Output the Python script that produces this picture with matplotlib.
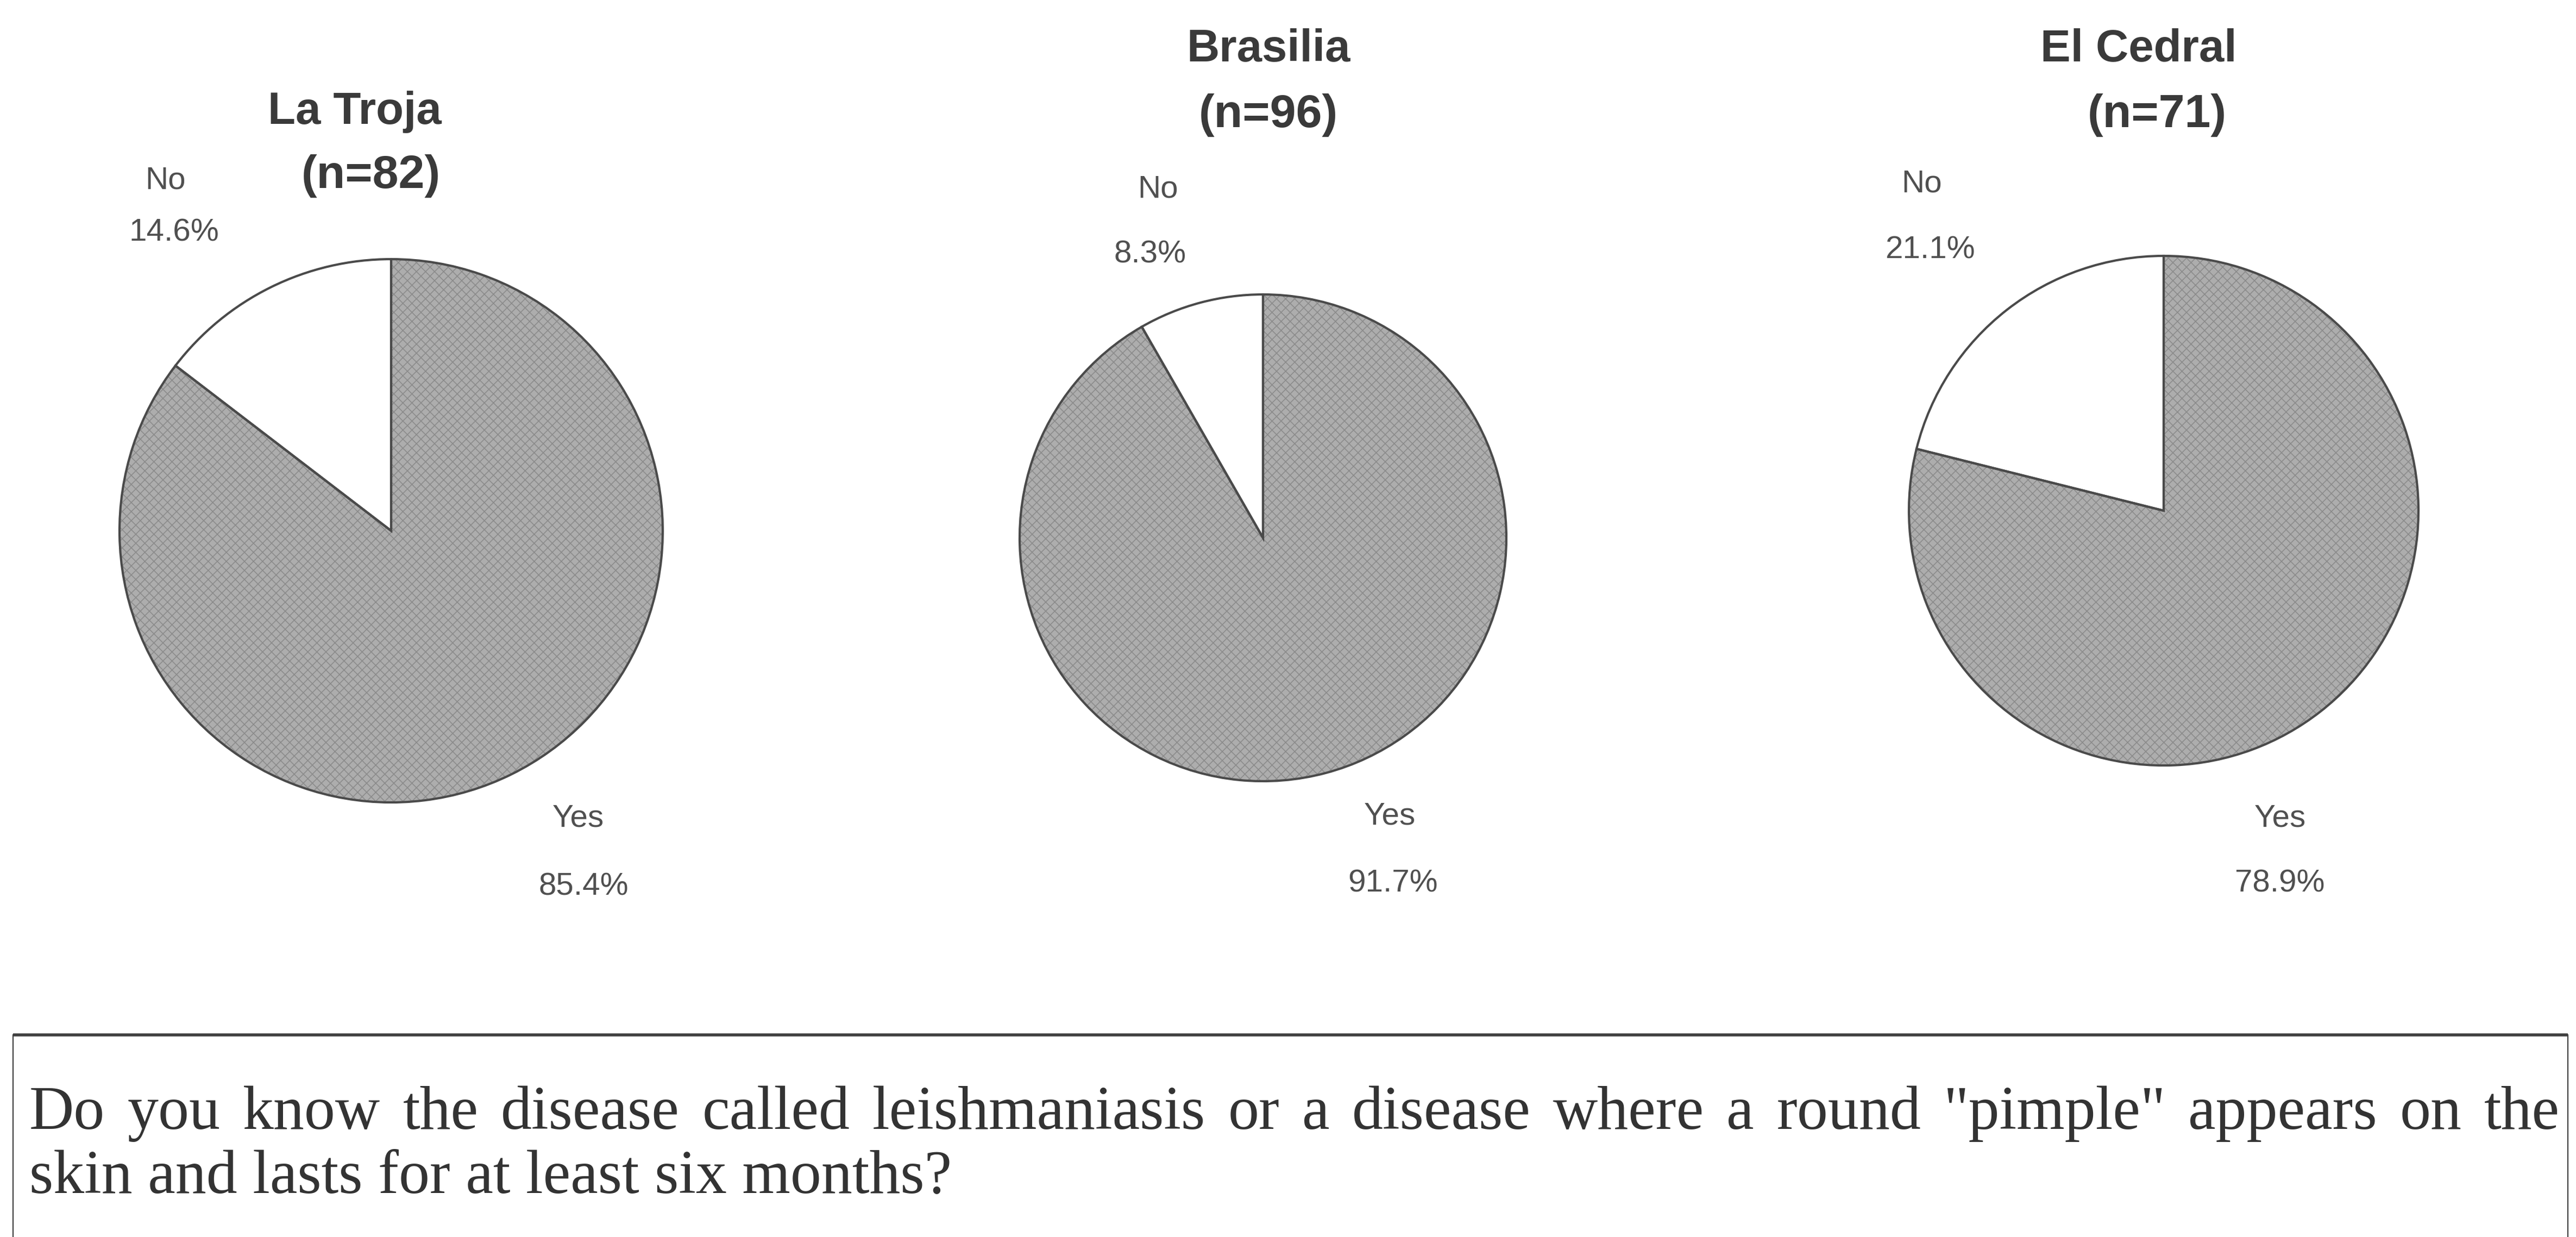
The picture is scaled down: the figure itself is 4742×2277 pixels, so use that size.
import matplotlib.pyplot as plt

plt.rcParams['hatch.linewidth'] = 1.2

# Survey answers per village (% yes / % no)
villages = ['La Troja', 'Brasilia', 'El Cedral']
sample_sizes = [82, 96, 71]
yes_pct = [85.4, 91.7, 78.9]
no_pct = [14.6, 8.3, 21.1]

question = ('Do you know the disease called leishmaniasis or a disease where a round '
            '"pimple" appears on the',
            'skin and lasts for at least six months?')

W, H = 4742, 2277

# layout in pixel units, y measured from the top
centers = [(720, 977), (2325, 990), (3983, 940)]
radii = [500, 448, 469]
title_pos = [((653, 206), (683, 324)), ((2335, 91), (2335, 212)), ((3937, 91), (3971, 212))]
no_pos = [((305, 333), (320, 429)), ((2132, 348), (2117, 469)), ((3538, 339), (3553, 460))]
yes_pos = [((1064, 1506), (1074, 1633)), ((2558, 1503), (2564, 1627)), ((4197, 1506), (4197, 1627))]

fig = plt.figure(figsize=(W / 100, H / 100), dpi=100)
ax = fig.add_axes([0, 0, 1, 1])
ax.set_xlim(0, W)
ax.set_ylim(0, H)


def flip(p):
    return p[0], H - p[1]


for i, name in enumerate(villages):
    c = flip(centers[i])
    r = radii[i]
    vals = [yes_pct[i], no_pct[i]]
    # filled + hatched wedges
    ax.pie(vals, colors=['#adadad', 'white'], hatch=['xx', ''], startangle=90,
           counterclock=False, center=c, radius=r, frame=True,
           wedgeprops=dict(edgecolor='#8c8c8c', linewidth=0))
    # outlines on top
    ax.pie(vals, colors=['none', 'none'], startangle=90, counterclock=False,
           center=c, radius=r, frame=True,
           wedgeprops=dict(edgecolor='#4a4a4a', linewidth=3.0))

    t1, t2 = title_pos[i]
    ax.text(*flip(t1), name, fontsize=60, fontweight='bold', family='Liberation Sans',
            color='#3a3a3a', ha='center', va='center')
    ax.text(*flip(t2), f'(n={sample_sizes[i]})', fontsize=62, fontweight='bold',
            family='Liberation Sans', color='#3a3a3a', ha='center', va='center')

    n1, n2 = no_pos[i]
    ax.text(*flip(n1), 'No', fontsize=42, family='Liberation Sans', color='#505050',
            ha='center', va='center')
    ax.text(*flip(n2), f'{no_pct[i]:.1f}%', fontsize=42, family='Liberation Sans',
            color='#505050', ha='center', va='center')
    y1, y2 = yes_pos[i]
    ax.text(*flip(y1), 'Yes', fontsize=42, family='Liberation Sans', color='#505050',
            ha='center', va='center')
    ax.text(*flip(y2), f'{yes_pct[i]:.1f}%', fontsize=42, family='Liberation Sans',
            color='#505050', ha='center', va='center')

# question box
box_l, box_r, box_t = 24, 4727, 1905
ax.plot([box_l, box_r], [H - box_t, H - box_t], color='#404040', lw=4.0,
        solid_capstyle='butt')
ax.plot([box_l, box_l], [H - box_t, -10], color='#404040', lw=1.6)
ax.plot([box_r, box_r], [H - box_t, -10], color='#404040', lw=1.6)

# first line is justified across the box, second line left aligned
renderer = fig.canvas.get_renderer()
text_l, text_r = 54, 4712
size = 82
words = question[0].split(' ')
objs = [ax.text(0, H - 2050, w, fontsize=size, family='Liberation Serif',
                color='#333333', ha='left', va='center') for w in words]
widths = [o.get_window_extent(renderer).width for o in objs]
gap = (text_r - text_l - sum(widths)) / (len(words) - 1)
x = text_l
for o, w in zip(objs, widths):
    o.set_x(x)
    x += w + gap

ax.text(text_l, H - 2168, question[1], fontsize=size, family='Liberation Serif',
        color='#333333', ha='left', va='center')

ax.set_aspect('equal')
ax.axis('off')

fig.savefig('out.png', dpi=100, facecolor='white')
